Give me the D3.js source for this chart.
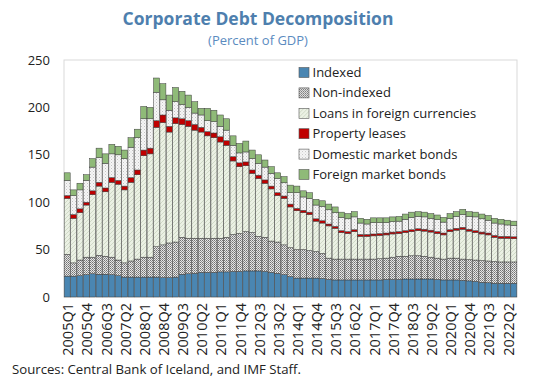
<!DOCTYPE html>
<html>
<head>
<meta charset="utf-8">
<script src="https://cdn.jsdelivr.net/npm/d3@7/dist/d3.min.js"></script>
<style>
  body { margin: 0; background: #fff; }
  text { font-family: "Open Sans", "Noto Sans", sans-serif; }
</style>
</head>
<body>
<svg id="chart" width="539" height="377"></svg>
<script>
// Quarterly categories, 2005Q1 .. 2022Q3
const categories = [];
for (let y = 2005; y <= 2022; y++) for (let q = 1; q <= 4; q++) categories.push(y + "Q" + q);
categories.length = 71;

const tickLabels = ["2005Q1","2005Q4","2006Q3","2007Q2","2008Q1","2008Q4","2009Q3","2010Q2",
  "2011Q1","2011Q4","2012Q3","2013Q2","2014Q1","2014Q4","2015Q3","2016Q2","2017Q1","2017Q4",
  "2018Q3","2019Q2","2020Q1","2020Q4","2021Q3","2022Q2"];

const yTicks = [0, 50, 100, 150, 200, 250];

// Percent of GDP, by component
const indexed = [22,22,22.5,23.5,24.5,24,24,23.5,22.5,21,
  21,21,21,21,21,20.5,20.5,21,24,24.5,
  25,26,26,26,26.5,26.5,27,27,27.5,27.5,
  27.5,27,26,25,23.5,21.5,20,20,20,20,
  19.5,18.5,18,18,18,18,18,18,18,18,
  18.5,18.5,18.5,19,19,19,19,19,18.5,18,
  18,18,17.5,17,16.5,15.5,15,14.5,14.5,14.5,14.5];

const nonIndexed = [23,14,16.5,18.5,17.5,20,19,18.5,16.5,15,
  17,19,21,21,32,34.5,36.5,37,39,37.5,
  37,36,36,36,35.5,36.5,39,40,41.5,40.5,
  36.5,36,33,33,31.5,30.5,30,30,29,28,
  26.5,22.5,22,22,22,22,22,22,22,22.5,
  22.5,23.5,24.5,24,24.5,24.5,24,23,22.5,22,
  23,23,22.5,22.5,22.5,23,23,23,22.5,22.5,22.5];

const fxLoans = [59,47,50,55,66,73,68,79,80,77,
  83,89,107,109,126,129,117,125,119,118,
  114,112,108,106,101.5,97,77.5,70.5,69.5,62.5,
  61,57,55,49,49,43,41,39,38,32,
  32,34,32.5,28,27,29,24,24,24.5,24.5,
  24.5,24.5,24,25,25.5,26.5,26.5,26.5,26,25.5,
  28,29.5,31.5,30,29,28,27.5,25.5,25,25,24.5];

const leases = [3,4,4,3,4,4,4,5,4,4,
  5,5,6,6,7,8,6,6,6,6,
  6,5,4.5,5,5.5,5,4.5,4,4,3.5,
  3.5,3.5,3,3,2.5,3,2.5,2.5,2.5,2.5,
  2.5,2,2,2,2,2,2,2,2,2,
  2,2,2,2,2,2,2,2,2,2,
  2,2,2,2,2,2,2,2,2,2,2];

const domBonds = [16,20,20,23,25,26,26,25,27,29,
  32,34,33,31,30,16,17,17,15,14,
  12,13,11.5,12,11,11,12,10.5,10.5,12,
  12.5,13.5,13.5,15,14,12,16.5,14,14.5,14.5,
  15,15,14.5,14,13.5,13.5,12,11,12,11.5,
  11,11,11,12,13,13,13,12.5,12.5,11.5,
  12,12.5,13.5,13.5,14.5,14,13.5,13,13,12,12];

const forBonds = [8,6,7,6,9,10,10,10,9,9,
  10,9,13,12,15,17,16,15,14,13,
  12,7,13,12,12,12,10,10,11.5,9,
  9,7.5,7,6,6.5,8,7,6.5,6,6,
  6,6,6,5.5,5.5,5.5,5,5,5,5,
  5,5,5,5.5,5.5,5,5,5,5,5,
  5,5,5.5,5,5,5,5,5,5,5,4.5];

const seriesNames = ["Indexed","Non-indexed","Loans in foreign currencies",
  "Property leases","Domestic market bonds","Foreign market bonds"];
const seriesKeys = ["indexed","nonIndexed","fxLoans","leases","domBonds","forBonds"];
const seriesValues = [indexed, nonIndexed, fxLoans, leases, domBonds, forBonds];

const rows = categories.map((c, i) => {
  const r = { cat: c };
  seriesKeys.forEach((k, j) => r[k] = seriesValues[j][i]);
  return r;
});

const svg = d3.select("#chart");
const margin = { left: 64, right: 22, top: 60, bottom: 80 };
const W = 539, H = 377;

// Fill patterns
const defs = svg.append("defs");
function pattern(id, size, bg, marks) {
  const p = defs.append("pattern").attr("id", id).attr("patternUnits", "userSpaceOnUse")
    .attr("width", size).attr("height", size);
  p.append("rect").attr("width", size).attr("height", size).attr("fill", bg);
  marks(p);
}
pattern("pNonIdx", 2, "#e6e6e6", p => {
  p.append("rect").attr("x", 0).attr("y", 0).attr("width", 1).attr("height", 1).attr("fill", "#727272");
  p.append("rect").attr("x", 1).attr("y", 1).attr("width", 1).attr("height", 1).attr("fill", "#939393");
});
pattern("pFx", 4, "#ebf1e4", p => {
  p.append("path").attr("d", "M0,4 L4,0 M-1,1 L1,-1 M3,5 L5,3")
    .attr("stroke", "#c9d3c0").attr("stroke-width", 0.8);
});
pattern("pDom", 3, "#f6f6f6", p => {
  p.append("rect").attr("x", 0).attr("y", 0).attr("width", 1).attr("height", 1).attr("fill", "#c4c4c4");
  p.append("rect").attr("x", 1.5).attr("y", 1.5).attr("width", 1).attr("height", 1).attr("fill", "#d2d2d2");
});

const fills = ["#4a86b2", "url(#pNonIdx)", "url(#pFx)", "#c00000", "url(#pDom)", "#8fba78"];

const x = d3.scaleBand().domain(categories).range([margin.left, W - margin.right]).paddingInner(0.06).paddingOuter(0.03);
const y = d3.scaleLinear().domain([0, 250]).range([297, 60]);

// Plot frame
svg.append("rect").attr("x", margin.left).attr("y", 60)
  .attr("width", W - margin.right - margin.left).attr("height", 237)
  .attr("fill", "none").attr("stroke", "#d9d9d9").attr("stroke-width", 1);

// Stacked bars
const stacked = d3.stack().keys(seriesKeys)(rows);
svg.append("g").selectAll("g").data(stacked).join("g")
  .attr("fill", (d, i) => fills[i])
  .selectAll("rect").data(d => d).join("rect")
  .attr("x", d => x(d.data.cat))
  .attr("width", x.bandwidth())
  .attr("y", d => y(d[1]))
  .attr("height", d => y(d[0]) - y(d[1]))
  .attr("stroke", "#3c3c3c").attr("stroke-width", 0.5);

// Y axis labels
const yAxis = d3.axisLeft(y).tickValues(yTicks).tickSize(0).tickPadding(14);
const gy = svg.append("g").attr("transform", `translate(${margin.left},0)`).call(yAxis);
gy.select(".domain").remove();
gy.selectAll("text").attr("font-size", 13).attr("fill", "#222")
  .style("font-family", '"Open Sans", sans-serif');

// X axis labels (rotated)
const xAxis = d3.axisBottom(x).tickValues(tickLabels).tickSize(0).tickPadding(0);
const gx = svg.append("g").attr("transform", `translate(1,297)`).call(xAxis);
gx.select(".domain").remove();
gx.selectAll("text")
  .attr("font-size", 14.5).attr("fill", "#222")
  .style("font-family", '"Open Sans", sans-serif')
  .attr("text-anchor", "end")
  .attr("transform", "rotate(-90)")
  .attr("x", -6).attr("y", 0).attr("dy", "0.35em");

// Title
svg.append("text").attr("x", 258).attr("y", 25).attr("text-anchor", "middle")
  .attr("font-size", 17.5).attr("font-weight", "bold").attr("fill", "#4e7fae")
  .text("Corporate Debt Decomposition");
svg.append("text").attr("x", 258).attr("y", 45).attr("text-anchor", "middle")
  .attr("font-size", 13).attr("fill", "#5b8bbf")
  .text("(Percent of GDP)");

// Legend
const lg = svg.append("g").selectAll("g").data(seriesNames).join("g")
  .attr("transform", (d, i) => `translate(299,${72.5 + i * 20.4})`);
lg.append("rect").attr("x", 0).attr("y", -5).attr("width", 10).attr("height", 10)
  .attr("fill", (d, i) => fills[i]).attr("stroke", "#555").attr("stroke-width", 0.6);
lg.append("text").attr("x", 13.5).attr("y", 0).attr("dy", "0.35em")
  .attr("font-size", 13).attr("fill", "#222").text(d => d);

// Source note
svg.append("text").attr("x", 12).attr("y", 374)
  .attr("font-size", 13.2).attr("fill", "#222")
  .text("Sources: Central Bank of Iceland, and IMF Staff.");
</script>
</body>
</html>
